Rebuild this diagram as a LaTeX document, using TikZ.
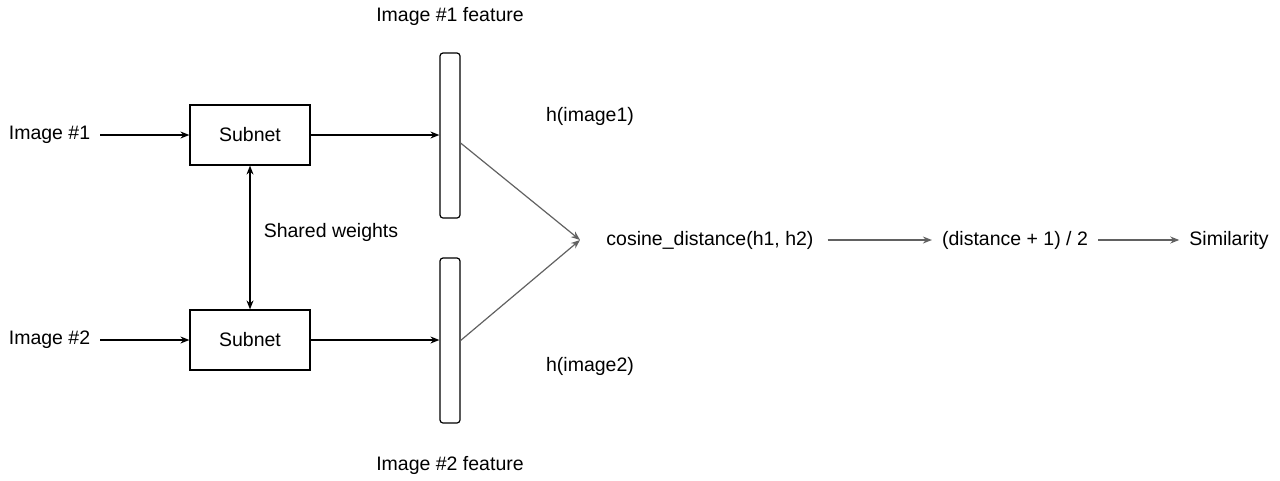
\documentclass[tikz,border=0pt]{standalone}
\usepackage{fontspec}
\setmainfont{Liberation Sans}
\usetikzlibrary{arrows.meta}
\begin{document}
\begin{tikzpicture}[x=1pt,y=-1pt,
  lbl/.style={inner xsep=10pt,inner ysep=2pt,font=\fontsize{19.5}{23}\selectfont},
  box/.style={draw,line width=1.2pt,minimum width=120pt,minimum height=60pt,inner sep=0pt,font=\fontsize{19.5}{23}\selectfont},
  bar/.style={draw,line width=1.2pt,rounded corners=3pt,minimum width=20pt,minimum height=165pt,inner sep=0pt},
  arr/.style={line width=1.2pt,-{Stealth[length=9pt,width=7pt]}},
  garr/.style={arr,draw=black!62}]
\useasboundingbox (0,0) rectangle (1280,480);
\node[lbl] (img1) at (49.5,135) {Image \#1};
\node[lbl] (img2) at (49.5,340) {Image \#2};
\node[box] (sub1) at (250,135) {Subnet};
\node[box] (sub2) at (250,340) {Subnet};
\node[bar] (f1) at (450,135.5) {};
\node[bar] (f2) at (450,340.5) {};
\node[lbl] (f1l) at (450,16) {Image \#1 feature};
\node[lbl] (f2l) at (450,465) {Image \#2 feature};
\node[lbl] (h1) at (590,116) {h(image1)};
\node[lbl] (h2) at (590,366) {h(image2)};
\node[lbl] (sw) at (331,232) {Shared weights};
\node[lbl] (cos) at (710,240) {cosine\_distance(h1, h2)};
\node[lbl] (nrm) at (1015,240) {(distance + 1) / 2};
\node[lbl] (sim) at (1229,240) {Similarity};
\coordinate (m) at (580,240);
\draw[arr] (img1) -- (sub1);
\draw[arr] (img2) -- (sub2);
\draw[arr] (sub1.east) -- (sub1.east -| f1.west);
\draw[arr] (sub2.east) -- (sub2.east -| f2.west);
\draw[line width=1.2pt,{Stealth[length=9pt,width=7pt]}-{Stealth[length=9pt,width=7pt]}] (sub1) -- (sub2);
\draw[garr] ([yshift=-7.5pt]f1.east) -- (m);
\draw[garr] (f2.east) -- (m);
\draw[garr,shorten <=4pt] (cos) -- (nrm);
\draw[garr] (nrm) -- (sim);
\end{tikzpicture}
\end{document}
